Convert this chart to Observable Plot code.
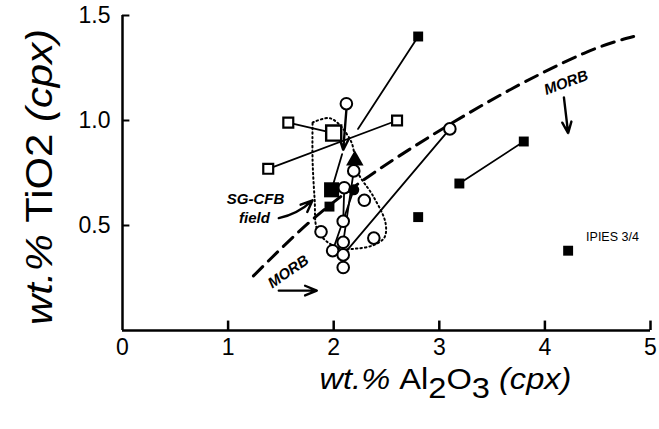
<!DOCTYPE html>
<html><head><meta charset="utf-8">
<script src="https://cdn.jsdelivr.net/npm/d3@7"></script>
<script src="https://cdn.jsdelivr.net/npm/@observablehq/plot@0.6"></script>
<style>body{margin:0;background:#fff} svg{display:block;background:#fff}</style>
</head><body><div id="chart"></div>
<script>
// ---- data (wt.% Al2O3, wt.% TiO2) ----
const xTicks = [0, 1, 2, 3, 4, 5];
const yTicks = [0.5, 1.0, 1.5];
const openCircles = [[2.12,1.08],[2.19,0.76],[2.10,0.68],[2.29,0.62],[2.09,0.52],[1.88,0.47],[2.09,0.42],[1.99,0.38],[2.09,0.36],[2.38,0.44],[2.09,0.30],[3.10,0.96]];
const filledCircles = [[2.19,0.67]];
const filledTriangles = [[2.20,0.81]];
const filledSquares = [[2.80,1.40],[3.80,0.90],[3.19,0.70],[2.80,0.54],[4.22,0.38],[1.96,0.59]];
const filledSquaresLarge = [[1.98,0.67]];
const openSquares = [[1.57,0.99],[1.38,0.77],[2.60,1.00]];
const openSquaresLarge = [[2.00,0.94]];
const tieLines = [
  [[2.80,1.40],[2.23,0.96]],
  [[1.57,0.99],[2.00,0.94]],
  [[1.38,0.77],[2.60,1.00]],
  [[3.19,0.70],[3.80,0.90]],
  [[3.10,0.96],[2.09,0.36]],
  [[2.19,0.76],[2.09,0.42]],
  [[2.10,0.68],[2.09,0.52]],
  [[2.19,0.67],[1.99,0.38]],
  [[1.98,0.67],[2.08,0.84]]
];
const morbCurve = [[1.24,0.26],[1.78,0.52],[2.32,0.73],[2.90,0.92],[3.61,1.13],[4.37,1.32],[4.84,1.40]];
const fieldOutline = [[1.80,0.99],[1.97,1.01],[2.16,0.905],[2.23,0.752],[2.37,0.643],[2.49,0.514],[2.48,0.443],[2.37,0.405],[2.21,0.39],[2.06,0.39],[1.92,0.43],[1.84,0.486],[1.82,0.62],[1.80,0.81],[1.80,0.99]];
const straightArrows = [
  {x1:2.12, y1:1.05, x2:2.09, y2:0.86},
  {x1:4.18, y1:1.11, x2:4.22, y2:0.94},
  {x1:1.48, y1:0.19, x2:1.84, y2:0.19}
];
const bentArrows = [
  {x1:1.48, y1:0.535, x2:1.80, y2:0.62}
];
const boldNotes = [
  {x:1.26, y:0.627, text:"SG-CFB", rotate:0},
  {x:1.25, y:0.537, text:"field", rotate:0},
  {x:4.20, y:1.18, text:"MORB", rotate:-20},
  {x:1.57, y:0.28, text:"MORB", rotate:-35}
];
const plainNotes = [
  {x:4.64, y:0.445, text:"IPIES 3/4"}
];
const xTitle = "wt.% Al2O3 (cpx)";
const yTitle = "wt.% TiO2 (cpx)";

const segs = tieLines.flatMap((s, i) => s.map(([x, y]) => ({x, y, id: i})));
const pts = a => a.map(([x, y]) => ({x, y}));

const chart = Plot.plot({
  width: 659, height: 429,
  marginLeft: 122, marginRight: 9, marginTop: 15, marginBottom: 99,
  x: {domain: [0, 5]},
  y: {domain: [0, 1.5]},
  style: {fontFamily: "'Liberation Sans', Arial, sans-serif", color: "#000", background: "#fff"},
  marks: [
    Plot.line(pts(fieldOutline), {x: "x", y: "y", stroke: "#000", strokeWidth: 2, strokeDasharray: "1.5,3", curve: "catmull-rom"}),
    Plot.line(pts(morbCurve), {x: "x", y: "y", stroke: "#000", strokeWidth: 3, strokeDasharray: "13,8", curve: "natural"}),
    Plot.line(segs, {x: "x", y: "y", z: "id", stroke: "#000", strokeWidth: 1.8}),
    Plot.arrow(straightArrows, {x1: "x1", y1: "y1", x2: "x2", y2: "y2", stroke: "#000", strokeWidth: 2.4, headLength: 10, headAngle: 45}),
    Plot.arrow(bentArrows, {x1: "x1", y1: "y1", x2: "x2", y2: "y2", bend: -15, stroke: "#000", strokeWidth: 2.4, headLength: 10, headAngle: 45}),
    Plot.dot(pts(openSquares), {x: "x", y: "y", symbol: "square", r: 5.6, fill: "#fff", stroke: "#000", strokeWidth: 2.2}),
    Plot.dot(pts(openSquaresLarge), {x: "x", y: "y", symbol: "square", r: 8.5, fill: "#fff", stroke: "#000", strokeWidth: 2.4}),
    Plot.dot(pts(openCircles), {x: "x", y: "y", r: 5.8, fill: "#fff", stroke: "#000", strokeWidth: 2}),
    Plot.dot(pts(filledCircles), {x: "x", y: "y", r: 5.5, fill: "#000"}),
    Plot.dot(pts(filledTriangles), {x: "x", y: "y", symbol: "triangle", r: 6.5, fill: "#000"}),
    Plot.dot(pts(filledSquares), {x: "x", y: "y", symbol: "square", r: 5.6, fill: "#000"}),
    Plot.dot(pts(filledSquaresLarge), {x: "x", y: "y", symbol: "square", r: 8.5, fill: "#000"}),
    Plot.text(boldNotes, {x: "x", y: "y", text: "text", rotate: "rotate", fontSize: 15, fontStyle: "italic", fontWeight: "bold", fill: "#000"}),
    Plot.text(plainNotes, {x: "x", y: "y", text: "text", fontSize: 12.5, fill: "#000"}),
    // axes
    Plot.ruleX([0], {y1: 0, y2: 1.5, stroke: "#000", strokeWidth: 2.5}),
    Plot.ruleY([0], {x1: 0, x2: 5, stroke: "#000", strokeWidth: 2.5}),
    Plot.ruleX(xTicks.filter(d => d > 0), {y1: 0, y2: 0.045, stroke: "#000", strokeWidth: 2.5}),
    Plot.ruleY(yTicks, {x1: 0, x2: 0.07, stroke: "#000", strokeWidth: 2}),
    Plot.axisX({ticks: xTicks, tickSize: 0, tickPadding: 8, fontSize: 23, label: null, tickFormat: d => String(d)}),
    Plot.axisY({ticks: yTicks, tickSize: 0, tickPadding: 12, fontSize: 23, label: null, tickFormat: d3.format(".1f")}),
    Plot.text([xTitle], {frameAnchor: "bottom", dx: 59, dy: 58, fontSize: 30, fill: "#000"}),
    Plot.text([yTitle], {frameAnchor: "left", dx: -82, dy: 152, rotate: -90, fontSize: 36, textAnchor: "start", fill: "#000"})
  ]
});
document.getElementById("chart").appendChild(chart);

// rich formatting of the axis titles (italic parts, subscripts)
const svg = d3.select(chart);
svg.selectAll("text").filter(function(){ return this.textContent === xTitle; }).each(function(){
  const t = d3.select(this); t.text("");
  t.attr("textLength", 252).attr("lengthAdjust", "spacingAndGlyphs");
  t.append("tspan").attr("font-style", "italic").text("wt.% ");
  t.append("tspan").text("Al");
  t.append("tspan").attr("dy", "0.3em").text("2");
  t.append("tspan").attr("dy", "-0.3em").text("O");
  t.append("tspan").attr("dy", "0.3em").text("3");
  t.append("tspan").attr("dy", "-0.3em").attr("font-style", "italic").text(" (cpx)");
});
svg.selectAll("text").filter(function(){ return this.textContent === yTitle; }).each(function(){
  const t = d3.select(this); t.text("");
  t.attr("text-anchor", "start").attr("textLength", 296).attr("lengthAdjust", "spacingAndGlyphs");
  t.append("tspan").attr("font-style", "italic").text("wt.% ");
  t.append("tspan").text("TiO2 ");
  t.append("tspan").attr("font-style", "italic").text("(cpx)");
});
</script>
</body></html>
